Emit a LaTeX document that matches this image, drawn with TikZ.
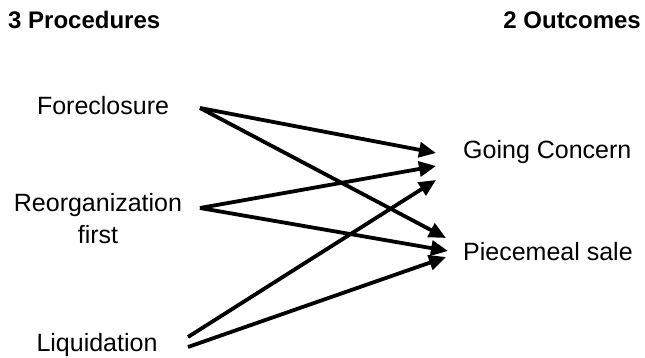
\documentclass[tikz,border=0pt]{standalone}
\usepackage{fontspec}
\setmainfont{Liberation Sans}
\usetikzlibrary{arrows.meta}
\tikzset{
  lbl/.style={inner sep=0pt, font=\fontsize{25}{32}\selectfont, align=center},
  hdr/.style={inner sep=0pt, font=\bfseries\fontsize{24}{28}\selectfont},
  arr/.style={line width=3.8pt, -{Triangle[length=17pt,width=15pt]}}
}
\begin{document}
\begin{tikzpicture}[x=1pt,y=-1pt]
\useasboundingbox (0,0) rectangle (645,358);
\node[hdr, anchor=west] (h1) at (8,20) {3 Procedures};
\node[hdr, anchor=east] (h2) at (641,20) {2 Outcomes};
\node[lbl] (fore) at (103,106) {Foreclosure};
\node[lbl] (reorg) at (98,219) {Reorganization\\first};
\node[lbl] (liq) at (97,345) {Liquidation};
\node[lbl, anchor=west] (gc) at (463,152) {Going Concern};
\node[lbl, anchor=west] (ps) at (463,252) {Piecemeal sale};
% attachment points
\coordinate (f0) at (200,108);
\coordinate (r0) at (200,208);
\coordinate (l1) at (188,337);
\coordinate (l2) at (188,347);
\coordinate (g1) at (436,153);
\coordinate (g2) at (436,166);
\coordinate (g3) at (436,180);
\coordinate (p1) at (446,238);
\coordinate (p2) at (448,251);
\coordinate (p3) at (446,257);
\draw[arr] (f0) -- (g1);
\draw[arr] (f0) -- (p1);
\draw[arr] (r0) -- (g2);
\draw[arr] (r0) -- (p2);
\draw[arr] (l1) -- (g3);
\draw[arr] (l2) -- (p3);
\end{tikzpicture}
\end{document}
